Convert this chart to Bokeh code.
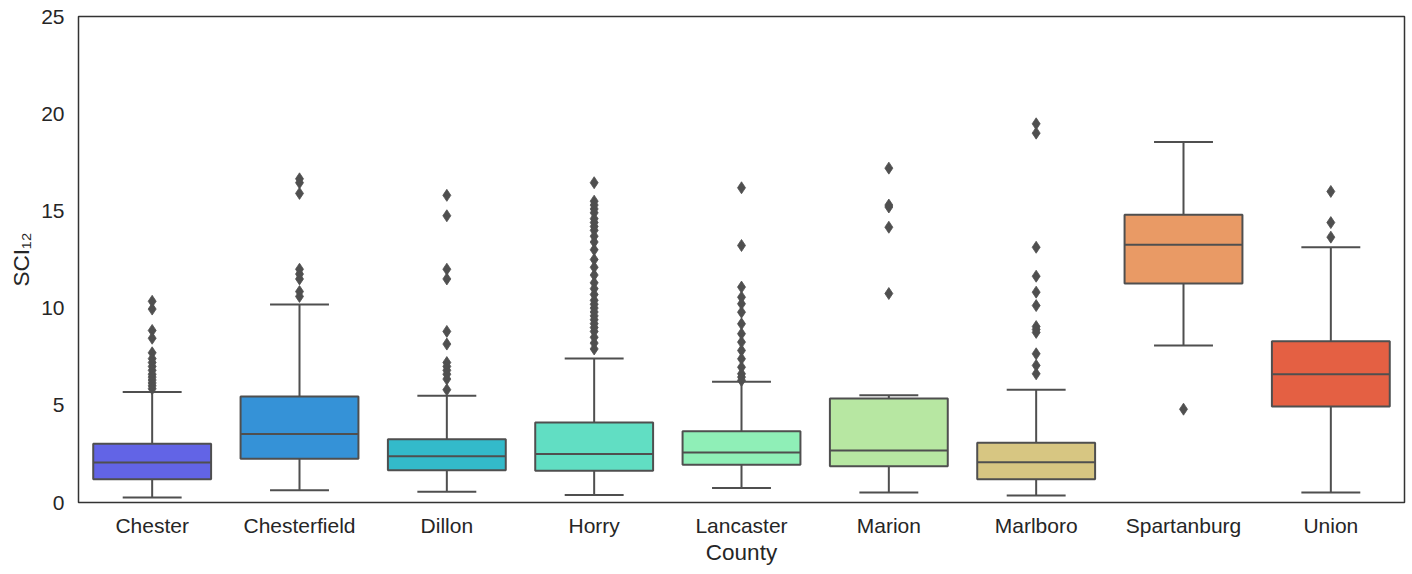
from bokeh.plotting import figure
from bokeh.models import FactorRange, Range1d, FixedTicker, ColumnDataSource
from bokeh.embed import file_html
from bokeh.resources import INLINE

# Box-plot summary statistics of SCI12 for each county
counties = ["Chester", "Chesterfield", "Dillon", "Horry", "Lancaster",
            "Marion", "Marlboro", "Spartanburg", "Union"]
q1 = [1.20, 2.25, 1.66, 1.63, 1.94, 1.87, 1.20, 11.27, 4.94]
median = [2.06, 3.53, 2.38, 2.50, 2.57, 2.67, 2.07, 13.26, 6.60]
q3 = [3.02, 5.45, 3.26, 4.12, 3.67, 5.35, 3.07, 14.80, 8.30]
whisker_low = [0.26, 0.63, 0.55, 0.38, 0.74, 0.51, 0.36, 8.08, 0.51]
whisker_high = [5.69, 10.19, 5.49, 7.41, 6.21, 5.52, 5.80, 18.55, 13.13]

# Outlying observations per county
outliers = {
    "Chester": [10.35, 9.95, 8.85, 8.45, 7.7, 7.4, 7.2, 7.0, 6.8, 6.6, 6.45,
                6.3, 6.15, 6.0, 5.85],
    "Chesterfield": [16.65, 16.45, 15.9, 12.0, 11.75, 11.5, 10.85, 10.6],
    "Dillon": [15.8, 14.75, 12.0, 11.5, 8.8, 8.15, 7.2, 7.0, 6.8, 6.6, 6.35, 5.8],
    "Horry": [16.45, 15.5, 15.3, 15.1, 14.9, 14.6, 14.4, 14.2, 14.0, 13.7, 13.4,
              13.0, 12.5, 12.1, 11.7, 11.3, 11.0, 10.7, 10.4, 10.2, 10.0, 9.8,
              9.6, 9.4, 9.2, 9.0, 8.8, 8.5, 8.2, 7.9],
    "Lancaster": [16.19, 13.22, 11.08, 10.56, 10.22, 9.79, 9.19, 8.68, 8.25,
                  7.82, 7.39, 6.96, 6.62, 6.45, 6.28],
    "Marion": [17.2, 15.3, 15.2, 14.16, 10.75],
    "Marlboro": [19.48, 19.0, 13.13, 11.64, 10.82, 10.13, 9.05, 8.9, 8.75,
                 7.65, 7.05, 6.62],
    "Spartanburg": [4.8],
    "Union": [16.0, 14.4, 13.65],
}

yticks = [0, 5, 10, 15, 20, 25]

colors = ["#6264e6", "#3592d7", "#33baca", "#61dec3", "#8fefb7",
          "#b7e7a2", "#d7c682", "#e99a65", "#e46043"]
line_col = "#4f4f4f"
text_col = "#262626"
font = "Liberation Sans"

box_w = 0.8
cap_w = 0.4

centers = [i + 0.5 for i in range(len(counties))]

box_src = ColumnDataSource(dict(
    x=centers, q1=q1, q3=q3, med=median, lo=whisker_low, hi=whisker_high,
    x0=[c - box_w / 2 for c in centers], x1=[c + box_w / 2 for c in centers],
    c0=[c - cap_w / 2 for c in centers], c1=[c + cap_w / 2 for c in centers],
    color=colors,
))

fx, fy = [], []
for i, name in enumerate(counties):
    for v in outliers[name]:
        fx.append(centers[i])
        fy.append(v)

p = figure(width=1412, height=574, output_backend="svg", toolbar_location=None,
           x_range=FactorRange(*counties), y_range=Range1d(0, 25),
           min_border_left=78, min_border_right=8, min_border_top=16,
           min_border_bottom=72)
p.background_fill_color = "white"
p.border_fill_color = "white"
p.xgrid.visible = False
p.ygrid.visible = False
p.outline_line_color = "#333333"
p.outline_line_width = 1.5
p.outline_line_alpha = 1.0

# whiskers and caps
p.segment(x0="x", y0="q3", x1="x", y1="hi", source=box_src, line_color=line_col, line_width=2)
p.segment(x0="x", y0="q1", x1="x", y1="lo", source=box_src, line_color=line_col, line_width=2)
p.segment(x0="c0", y0="hi", x1="c1", y1="hi", source=box_src, line_color=line_col, line_width=2)
p.segment(x0="c0", y0="lo", x1="c1", y1="lo", source=box_src, line_color=line_col, line_width=2)

# boxes and medians
p.vbar(x="x", width=box_w, bottom="q1", top="q3", source=box_src,
       fill_color="color", line_color=line_col, line_width=2)
p.segment(x0="x0", y0="med", x1="x1", y1="med", source=box_src, line_color=line_col, line_width=2)

# outliers
p.scatter(fx, fy, marker="diamond", size=12, fill_color=line_col,
          line_color=line_col, line_width=0.8)

p.yaxis.ticker = FixedTicker(ticks=yticks)
for ax in (p.xaxis[0], p.yaxis[0]):
    ax.axis_line_color = None
    ax.major_tick_line_color = None
    ax.minor_tick_line_color = None
    ax.major_tick_out = 0
    ax.major_tick_in = 0
    ax.minor_tick_out = 0
    ax.major_label_text_font = font
    ax.major_label_text_font_size = "21px"
    ax.major_label_text_color = text_col
    ax.axis_label_text_font = font
    ax.axis_label_text_font_size = "22.5px"
    ax.axis_label_text_font_style = "normal"
    ax.axis_label_text_color = text_col

p.yaxis.major_label_standoff = 14
p.yaxis.axis_label = "SCI\u2081\u2082"
p.yaxis.axis_label_standoff = 4
p.xaxis.major_label_standoff = 11
p.xaxis.axis_label = "County"
p.xaxis.axis_label_standoff = 0

open("out.html", "w").write(file_html(p, INLINE))
